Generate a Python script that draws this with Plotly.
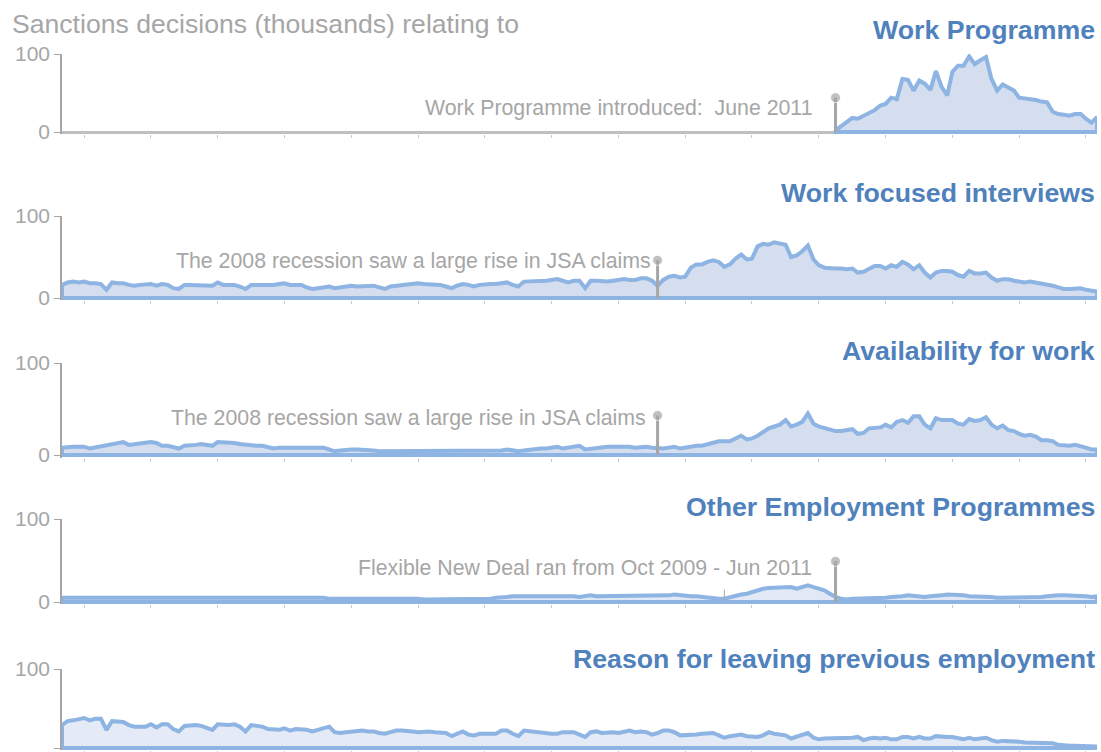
import pandas as pd
import plotly.graph_objects as go

# ---------------- data (thousands of sanction decisions, monthly) ----------------
months = pd.date_range("1999-11-01", periods=187, freq="MS")

wp_start = "2011-06-01"
work_programme = [2, 7, 12, 18, 17, 21, 24, 28, 34, 36,
                  44, 42, 68, 67, 53, 66, 62, 54, 78, 58,
                  47, 77, 85, 85, 97, 87, 92, 96, 68, 53,
                  61, 57, 53, 44, 43, 43, 41, 39, 38, 26,
                  23, 22, 21, 23, 23, 17, 12, 19]

work_focused = [16, 19, 20, 19, 20, 18, 18, 17, 10, 19,
                18, 18, 16, 15, 16, 16, 17, 15, 17, 16,
                12, 11, 16, 16, 16, 16, 16, 15, 19, 16,
                16, 16, 14, 11, 16, 16, 15, 15, 16, 17,
                18, 16, 16, 16, 13, 11, 12, 13, 14, 12,
                13, 14, 15, 14, 14, 14, 15, 13, 11, 14,
                15, 16, 16, 17, 18, 17, 17, 16, 16, 14,
                12, 15, 17, 16, 14, 16, 17, 17, 17, 18,
                19, 16, 14, 20, 20, 21, 21, 21, 22, 23,
                21, 19, 21, 21, 12, 21, 21, 20, 20, 21,
                22, 23, 22, 22, 24, 24, 21, 15, 22, 26,
                27, 25, 26, 37, 41, 41, 44, 46, 44, 38,
                41, 48, 53, 47, 48, 63, 66, 65, 68, 67,
                65, 50, 52, 57, 64, 47, 40, 37, 36, 36,
                36, 35, 36, 31, 32, 35, 39, 39, 36, 40,
                38, 44, 41, 35, 40, 31, 25, 31, 33, 33,
                32, 28, 26, 33, 30, 30, 31, 25, 21, 23,
                23, 21, 20, 19, 20, 19, 17, 16, 15, 13,
                11, 11, 12, 12, 10, 9, 8]

availability = [8, 9, 9, 9, 9, 7, 8, 9, 10, 11,
                12, 14, 11, 12, 13, 14, 14, 13, 10, 10,
                8, 7, 10, 10, 11, 12, 11, 10, 14, 14,
                14, 13, 12, 11, 10, 10, 10, 9, 7, 8,
                8, 7, 7, 7, 7, 7, 7, 8, 6, 4,
                5, 6, 6, 6, 6, 6, 5, 4, 4, 4,
                4, 4, 4, 4, 4, 4, 4, 5, 5, 4,
                4, 5, 5, 4, 4, 4, 4, 4, 5, 5,
                6, 5, 4, 5, 6, 7, 7, 7, 8, 9,
                7, 8, 9, 10, 6, 7, 8, 9, 9, 9,
                9, 10, 9, 8, 9, 9, 8, 7, 7, 8,
                9, 7, 8, 9, 10, 10, 12, 14, 15, 15,
                15, 18, 21, 17, 18, 21, 25, 29, 31, 33,
                38, 31, 33, 36, 45, 34, 31, 29, 27, 26,
                26, 27, 28, 23, 24, 29, 30, 30, 33, 30,
                36, 38, 35, 42, 42, 33, 29, 40, 38, 38,
                38, 34, 33, 39, 37, 38, 41, 33, 29, 32,
                27, 26, 23, 21, 22, 20, 16, 16, 15, 11,
                10, 10, 11, 10, 8, 6, 6]

other_programmes = [5, 5, 5, 5, 5, 5, 6, 6, 5, 5,
                    6, 6, 6, 5, 5, 5, 5, 5, 6, 6,
                    5, 5, 5, 5, 5, 5, 5, 5, 6, 6,
                    5, 5, 5, 5, 5, 5, 5, 5, 5, 6,
                    6, 5, 5, 5, 5, 5, 5, 5, 4, 4,
                    4, 5, 5, 5, 5, 5, 5, 5, 5, 4,
                    4, 4, 4, 4, 4, 3, 3, 3, 4, 4,
                    4, 4, 4, 3, 3, 3, 4, 4, 5, 5,
                    6, 7, 7, 7, 8, 8, 8, 7, 8, 8,
                    7, 7, 7, 6, 7, 8, 7, 7, 7, 7,
                    7, 7, 7, 7, 8, 7, 7, 8, 8, 8,
                    9, 8, 8, 7, 7, 6, 5, 4, 4, 4,
                    6, 8, 9, 10, 12, 14, 16, 17, 17, 18,
                    18, 18, 16, 18, 20, 18, 16, 14, 10, 6,
                    4, 3, 4, 4, 5, 5, 5, 5, 5, 6,
                    6, 7, 8, 7, 6, 6, 7, 7, 8, 9,
                    9, 8, 8, 7, 7, 6, 6, 6, 5, 5,
                    5, 5, 5, 5, 5, 6, 6, 7, 8, 8,
                    8, 8, 8, 8, 7, 6, 7]

leaving_employment = [29, 34, 35, 36, 38, 35, 37, 37, 23, 34,
                      34, 33, 29, 27, 27, 27, 30, 26, 30, 30,
                      24, 21, 28, 29, 29, 28, 26, 23, 30, 29,
                      29, 30, 27, 21, 29, 28, 27, 24, 23, 23,
                      25, 22, 24, 24, 23, 21, 23, 24, 27, 20,
                      19, 20, 21, 21, 22, 21, 21, 19, 18, 20,
                      22, 22, 22, 21, 20, 21, 21, 20, 19, 19,
                      15, 18, 21, 17, 16, 18, 18, 17, 18, 22,
                      22, 18, 15, 22, 21, 21, 19, 18, 18, 18,
                      20, 20, 20, 17, 14, 20, 21, 19, 20, 20,
                      19, 21, 22, 20, 21, 20, 17, 19, 22, 22,
                      20, 16, 16, 17, 17, 18, 19, 19, 16, 13,
                      15, 16, 17, 15, 15, 14, 16, 20, 18, 17,
                      16, 12, 14, 16, 19, 13, 11, 12, 12, 12,
                      13, 12, 13, 14, 10, 12, 13, 12, 13, 11,
                      11, 14, 14, 12, 14, 12, 12, 15, 14, 14,
                      14, 12, 11, 13, 11, 12, 13, 10, 8, 9,
                      9, 9, 8, 7, 7, 7, 6, 6, 6, 4,
                      3, 3, 3, 3, 3, 2, 2]

titles = ["Work Programme", "Work focused interviews", "Availability for work",
          "Other Employment Programmes", "Reason for leaving previous employment"]

# event markers: (panel, date, stem height, text)
events = [
    (0, "2011-06-01", 44, "Work Programme introduced:  June 2011"),
    (1, "2008-10-01", 46, "The 2008 recession saw a large rise in JSA claims"),
    (2, "2008-10-01", 43, "The 2008 recession saw a large rise in JSA claims"),
    (3, "2011-06-01", 49, "Flexible New Deal ran from Oct 2009 - Jun 2011"),
]
fnd_start = "2009-10-01"

# ---------------- styling / layout ----------------
W, H = 1101, 752
ML, MR = 62, 4
FONT = "Liberation Sans, Arial, sans-serif"
GREY = "#A6A6A6"
LINE = "#8DB4E2"
TITLE_C = "#4F81BD"
fills = ["#D4DEEF", "#D4DEEF", "#D4DEEF", "#E2E9F6", "#E4EBF7"]
# pixel geometry of each panel: (y of 100, y of 0, title centre y)
geo = [(54, 132, 30), (216, 298, 193), (363, 455, 351), (519, 602, 507), (669, 748, 659)]

series = [
    (pd.to_datetime(months[months >= wp_start]), work_programme),
    (months, work_focused),
    (months, availability),
    (months, other_programmes),
    (months, leaving_employment),
]

fig = go.Figure()
layout = dict(
    width=W, height=H, margin=dict(l=ML, r=MR, t=0, b=0),
    paper_bgcolor="white", plot_bgcolor="white", showlegend=False,
    font=dict(family=FONT, color=GREY),
)
annotations = []

for k, ((top, base, ty), (xs, ys)) in enumerate(zip(geo, series)):
    sfx = "" if k == 0 else str(k + 1)
    xa, ya = "x" + sfx, "y" + sfx
    unit = (base - top) / 100.0
    below = min(3 * unit, H - base)          # a little room under zero for the stroke
    ymin = -below / unit
    y_lo = 1 - (base + below) / H
    y_hi = 1 - top / H
    xs = list(xs)
    ys = list(ys)
    # closed polygon: data, then back along the baseline
    px = xs + [xs[-1], xs[0], xs[0]]
    py = ys + [0, 0, ys[0]]
    fig.add_trace(go.Scatter(x=px, y=py, mode="lines", fill="toself",
                             fillcolor=fills[k],
                             line=dict(color=LINE, width=4, shape="linear"),
                             hoverinfo="skip", xaxis=xa, yaxis=ya))
    layout["xaxis" + sfx] = dict(
        domain=[0, 1], anchor=ya, range=[months[0], months[-1]], automargin=False,
        showgrid=False, zeroline=False, showline=False,
        ticks="outside", ticklen=3, tickcolor="#C8C8C8", tickwidth=1,
        dtick="M12", tick0="2000-03-01", showticklabels=False)
    layout["yaxis" + sfx] = dict(
        domain=[max(y_lo, 0), y_hi], anchor=xa, range=[ymin, 100], automargin=False,
        tickvals=[0, 100], ticks="outside", ticklen=6, tickcolor=GREY,
        showline=True, linecolor=GREY, linewidth=1.5,
        showgrid=False, zeroline=True, zerolinecolor="#C0C0C0", zerolinewidth=2.5,
        tickfont=dict(size=21, color=GREY, family=FONT))
    annotations.append(dict(
        xref="paper", yref="paper", x=1.0, y=1 - ty / H, xanchor="right", yanchor="middle",
        text="<b>%s</b>" % titles[k], showarrow=False,
        font=dict(size=26.7, color=TITLE_C, family=FONT)))

# event stems
shifts = {0: -22, 1: -5, 2: -10, 3: -22}
text_levels = {0: 31, 1: 45, 2: 40, 3: 41}
for (k, d, hgt, txt) in events:
    sfx = "" if k == 0 else str(k + 1)
    fig.add_trace(go.Scatter(x=[d, d], y=[0, hgt], mode="lines+markers",
                             line=dict(color=GREY, width=3),
                             marker=dict(size=[0, 10], color=GREY),
                             hoverinfo="skip", xaxis="x" + sfx, yaxis="y" + sfx))
    annotations.append(dict(
        xref="x" + sfx, yref="y" + sfx, x=d, y=text_levels[k], xanchor="right",
        yanchor="middle", xshift=shifts[k], text=txt, showarrow=False,
        font=dict(size=21.3, color=GREY, family=FONT)))

# Oct 2009 start tick of the Flexible New Deal
fig.add_trace(go.Scatter(x=[fnd_start, fnd_start], y=[0, 15], mode="lines",
                         line=dict(color=GREY, width=1), hoverinfo="skip",
                         xaxis="x4", yaxis="y4"))

annotations.append(dict(
    xref="paper", yref="paper", x=(10 - ML) / (W - ML - MR), y=1 - 24 / H,
    xanchor="left", yanchor="middle", text="Sanctions decisions (thousands) relating to",
    showarrow=False, font=dict(size=26.6, color=GREY, family=FONT)))

layout["annotations"] = annotations
fig.update_layout(**layout)
fig.write_html("out.html", config={"displayModeBar": False},
               post_script="document.body.style.margin='0';document.body.style.overflow='hidden';")
